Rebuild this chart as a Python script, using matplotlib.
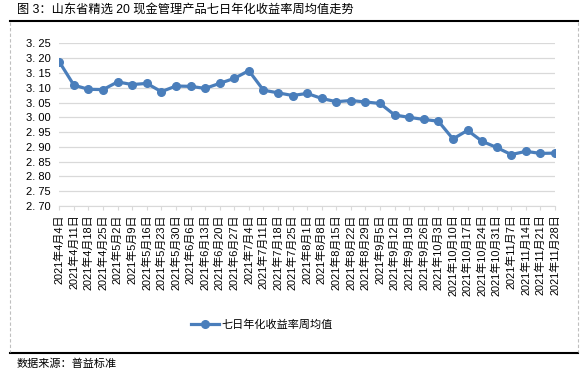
import matplotlib.pyplot as plt
from matplotlib.lines import Line2D

plt.rcParams['font.family'] = ['Liberation Sans', 'Noto Sans CJK SC', 'DejaVu Sans']

# 数据
dates = ['2021年4月4日', '2021年4月11日', '2021年4月18日', '2021年4月25日',
         '2021年5月2日', '2021年5月9日', '2021年5月16日', '2021年5月23日', '2021年5月30日',
         '2021年6月6日', '2021年6月13日', '2021年6月20日', '2021年6月27日',
         '2021年7月4日', '2021年7月11日', '2021年7月18日', '2021年7月25日',
         '2021年8月1日', '2021年8月8日', '2021年8月15日', '2021年8月22日', '2021年8月29日',
         '2021年9月5日', '2021年9月12日', '2021年9月19日', '2021年9月26日',
         '2021年10月3日', '2021年10月10日', '2021年10月17日', '2021年10月24日', '2021年10月31日',
         '2021年11月7日', '2021年11月14日', '2021年11月21日', '2021年11月28日']
rate = [3.188, 3.109, 3.095, 3.094, 3.120, 3.111, 3.115, 3.087, 3.106,
        3.105, 3.098, 3.115, 3.132, 3.158, 3.092, 3.083, 3.074,
        3.081, 3.064, 3.053, 3.057, 3.052, 3.047, 3.008, 3.000,
        2.993, 2.987, 2.927, 2.956, 2.919, 2.898, 2.874, 2.885, 2.878, 2.879]
yticks = [2.70, 2.75, 2.80, 2.85, 2.90, 2.95, 3.00, 3.05, 3.10, 3.15, 3.20, 3.25]

blue = '#4A7EBB'

fig = plt.figure(figsize=(5.88, 3.76), dpi=100)
ax = fig.add_axes([59.3 / 588, 1 - 206 / 376, (555 - 59.3) / 588, (206 - 43.5) / 376])

x = list(range(len(dates)))
ax.plot(x, rate, color=blue, lw=2.3, marker='o', ms=5.5, zorder=3)

ax.set_xlim(0, len(dates) - 1)
ax.set_ylim(2.70, 3.25)
ax.set_yticks(yticks)
ax.set_yticklabels([f'{v:.2f}'.replace('.', '. ') for v in yticks], fontsize=8)
ax.set_xticks(x)
ax.set_xticklabels(dates, rotation=90, fontsize=7.9)
ax.grid(axis='y', color='#D9D9D9', lw=0.9)
for s in ['left', 'right', 'top']:
    ax.spines[s].set_visible(False)
ax.spines['bottom'].set_color('#D9D9D9')
ax.tick_params(axis='y', length=0, pad=6)
ax.tick_params(axis='x', length=3, color='#D9D9D9', pad=3)

# 图例
h = Line2D([], [], color=blue, lw=2.3, marker='o', ms=5.5)
fig.legend([h], ['七日年化收益率周均值'], loc='center', bbox_to_anchor=(262 / 588, 1 - 325 / 376),
           frameon=False, fontsize=8, handlelength=2.5, handletextpad=0.3)

# 标题、边框、来源
fig.text(17 / 588, 1 - 10 / 376, '图 3：山东省精选 20 现金管理产品七日年化收益率周均值走势',
         fontsize=8.8, va='center', ha='left')
fig.add_artist(Line2D([10 / 588, 578 / 588], [1 - 21 / 376] * 2, color='black', lw=1.5))
fig.add_artist(Line2D([10 / 588, 578 / 588], [1 - 353 / 376] * 2, color='black', lw=1.5))
fig.add_artist(Line2D([10 / 588] * 2, [1 - 22 / 376, 1 - 352 / 376], color='#BFBFBF', lw=0.8, ls=(0, (3, 2))))
fig.add_artist(Line2D([578 / 588] * 2, [1 - 22 / 376, 1 - 352 / 376], color='#BFBFBF', lw=0.8, ls=(0, (3, 2))))
fig.text(17 / 588, 1 - 364 / 376, '数据来源：普益标准', fontsize=8, va='center', ha='left')

fig.savefig('out.png', dpi=100)
